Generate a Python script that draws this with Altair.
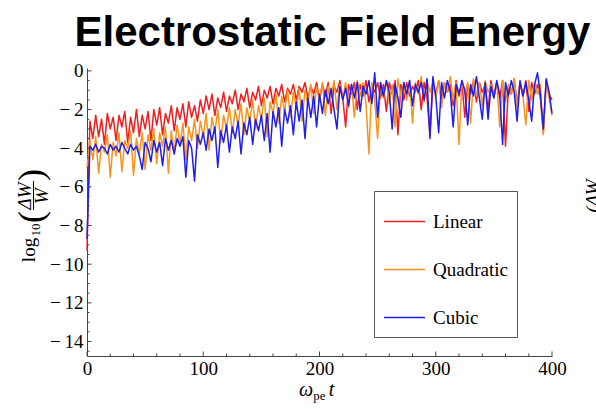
import altair as alt
import pandas as pd

# Sampling interval of the stored series (in units of omega_pe * t)
T_STEP = 2.5

SERIES = ["Linear", "Quadratic", "Cubic"]
COLORS = ["#f01e1e", "#f7941d", "#1e1ef0"]

# log10(dW/W) for each interpolation order, one value every T_STEP
linear = [
    -9.3, -2.6, -3.5, -2.3, -3.4, -2.5, -3.8, -2.2, -3.0, -2.4,
    -3.6, -2.3, -2.9, -2.1, -3.7, -2.4, -3.2, -2.0, -3.4, -2.3,
    -3.0, -2.1, -3.6, -2.0, -2.8, -1.9, -3.3, -2.2, -2.7, -1.8,
    -3.1, -1.9, -2.5, -1.7, -2.9, -1.6, -2.4, -1.8, -2.6, -1.5,
    -2.2, -1.3, -2.0, -1.2, -2.3, -1.4, -1.9, -1.1, -2.1, -1.3,
    -1.7, -1.0, -2.0, -1.2, -1.6, -0.9, -1.9, -1.1, -1.5, -0.8,
    -1.8, -1.0, -1.4, -0.8, -1.7, -0.9, -1.3, -0.7, -1.6, -0.9,
    -1.2, -0.7, -1.5, -0.8, -1.1, -0.6, -1.4, -0.8, -1.2, -0.6,
    -1.5, -0.7, -1.3, -0.6, -2.2, -0.8, -1.1, -0.5, -1.4, -2.9,
    -0.7, -1.2, -0.6, -2.0, -0.7, -1.3, -0.5, -1.6, -0.8, -1.1,
    -0.6, -1.4, -0.7, -2.1, -0.6, -1.2, -0.5, -3.3, -0.7, -1.5,
    -0.6, -1.3, -0.8, -1.1, -0.5, -2.0, -0.6, -1.4, -3.3, -0.7,
    -1.2, -0.5, -1.5, -0.6, -1.1, -0.7, -1.8, -0.5, -1.3, -0.6,
    -2.4, -0.7, -1.2, -0.5, -1.6, -0.6, -1.1, -0.7, -2.0, -0.5,
    -1.3, -0.6, -1.4, -0.5, -3.9, -0.8, -1.2, -0.4, -1.7, -0.6,
    -1.3, -0.5, -2.1, -0.6, -1.2, -0.7, -1.4, -3.2, -0.5, -1.2,
    -1.5,
]

quadratic = [
    -5.0, -3.6, -4.6, -3.4, -5.3, -3.8, -4.2, -3.3, -5.5, -3.7,
    -4.4, -3.2, -5.2, -3.6, -4.0, -3.1, -5.4, -3.5, -4.3, -3.2,
    -5.1, -3.3, -4.1, -3.0, -4.8, -3.2, -3.9, -2.9, -5.3, -3.1,
    -4.2, -2.8, -3.8, -2.7, -4.6, -2.9, -3.6, -2.5, -4.0, -2.6,
    -3.4, -2.2, -4.1, -2.4, -3.2, -2.0, -3.7, -2.3, -3.0, -1.9,
    -3.2, -2.0, -2.8, -1.7, -3.3, -1.9, -2.6, -1.5, -3.0, -1.8,
    -2.5, -1.4, -3.4, -1.6, -2.2, -1.2, -2.7, -1.3, -2.1, -1.0,
    -2.4, -1.1, -1.9, -0.9, -2.6, -1.0, -1.7, -0.7, -2.2, -0.8,
    -1.6, -0.6, -2.3, -0.8, -1.4, -0.5, -2.0, -0.7, -1.5, -0.6,
    -1.9, -0.7, -2.4, -0.5, -1.3, -0.6, -1.7, -4.3, -0.6, -1.5,
    -3.5, -0.6, -1.4, -0.5, -1.7, -0.7, -2.9, -0.4, -1.3, -0.6,
    -1.5, -0.5, -2.7, -0.6, -1.2, -0.3, -1.6, -0.5, -1.1, -0.6,
    -1.4, -0.5, -1.9, -0.6, -1.1, -0.3, -1.5, -0.6, -3.8, -0.5,
    -1.2, -0.6, -2.7, -0.4, -1.3, -0.6, -1.8, -0.5, -1.1, -0.7,
    -1.4, -0.6, -2.9, -0.5, -1.6, -0.7, -1.2, -0.4, -1.9, -0.6,
    -1.3, -2.8, -0.5, -1.5, -0.6, -1.2, -0.7, -3.3, -0.6, -1.4,
    -2.3,
]

cubic = [
    -8.7, -3.9, -4.1, -3.8, -4.2, -3.9, -4.0, -4.3, -3.8, -4.1,
    -3.9, -4.2, -3.7, -4.0, -4.3, -3.8, -4.1, -3.9, -4.4, -5.1,
    -3.7, -4.0, -4.7, -3.6, -4.2, -3.7, -4.9, -3.5, -4.1, -3.6,
    -4.3, -3.5, -3.9, -3.4, -5.5, -3.6, -4.0, -5.7, -3.3, -3.8,
    -3.2, -4.1, -3.0, -3.6, -2.9, -5.0, -3.1, -3.7, -2.8, -4.2,
    -2.9, -3.5, -2.6, -4.3, -2.7, -3.3, -2.4, -3.8, -2.5, -3.1,
    -2.3, -3.6, -2.2, -4.2, -2.1, -2.9, -1.9, -3.9, -2.0, -2.7,
    -1.8, -3.3, -1.6, -2.6, -1.5, -3.5, -1.4, -2.4, -1.3, -2.9,
    -1.2, -2.2, -1.0, -1.7, -0.9, -2.0, -3.0, -0.8, -1.5, -0.9,
    -1.8, -0.7, -1.4, -0.6, -2.1, -0.8, -1.2, -0.5, -1.7, -0.1,
    -2.4, -0.6, -1.3, -0.5, -1.1, -3.0, -0.7, -1.4, -2.4, -0.6,
    -1.2, -0.5, -1.8, -0.7, -1.1, -0.6, -1.5, -0.4, -3.5, -0.3,
    -1.3, -3.2, -0.6, -1.4, -0.5, -1.1, -2.9, -0.7, -1.2, -0.5,
    -1.0, -2.8, -0.7, -1.3, -0.3, -1.4, -2.5, -0.6, -2.5, -0.8,
    -1.4, -0.5, -1.2, -3.8, -0.6, -1.3, -0.5, -1.1, -2.6, -0.5,
    -1.3, -0.6, -1.5, -2.6, -0.7, -0.1, -1.2, -3.0, -0.4, -1.1,
    -2.2,
]

X_MAJOR = [0, 100, 200, 300, 400]
X_MINOR = [v for v in range(0, 401, 20) if v % 100]
Y_MAJOR = [0, -2, -4, -6, -8, -10, -12, -14]
Y_MINOR = [-k * 0.5 for k in range(0, 30) if k % 4]

W, H = 465, 288
SERIF = "Liberation Serif"
AXIS_GRAY = "#444444"

rows = []
for name, vals in zip(SERIES, [linear, quadratic, cubic]):
    for i, v in enumerate(vals):
        rows.append({"t": i * T_STEP, "value": v, "series": name})
data = pd.DataFrame(rows)

x_scale = alt.Scale(domain=[0, 400], nice=False, zero=False)
y_scale = alt.Scale(domain=[-14.75, 0.15], nice=False, zero=False)
color_scale = alt.Scale(domain=SERIES, range=COLORS)

x_axis = alt.Axis(values=X_MAJOR, ticks=False, grid=False, domainColor=AXIS_GRAY,
                  labelFont=SERIF, labelFontSize=19, labelColor="black",
                  labelPadding=3, title=None, labelFlush=False)
# negative labels get a long minus followed by a thin space
y_axis = alt.Axis(values=Y_MAJOR, ticks=False, grid=False, domainColor=AXIS_GRAY,
                  labelFont=SERIF, labelFontSize=19, labelColor="black",
                  labelPadding=4, title=None,
                  labelExpr="datum.value < 0 ? '\u2212\u2009' + format(-datum.value, 'd') : datum.label")
# an empty bottom title only adds a little space under the last entry
legend = alt.Legend(title=" ", titleOrient="bottom", titleFontSize=1, titleLineHeight=1,
                    titlePadding=-10,
                    orient="none", legendX=287, legendY=123,
                    symbolType="stroke", symbolSize=1681, symbolStrokeWidth=1.5,
                    labelFont=SERIF, labelFontSize=19, labelColor="black",
                    labelOffset=7, rowPadding=16, padding=9,
                    strokeColor="#555555", fillColor="white", labelLimit=300)


def series_layer(name):
    return (
        alt.Chart(data)
        .transform_filter(alt.datum.series == name)
        .mark_line(strokeWidth=1.5, strokeJoin="round")
        .encode(
            x=alt.X("t:Q", scale=x_scale, axis=x_axis),
            y=alt.Y("value:Q", scale=y_scale, axis=y_axis),
            color=alt.Color("series:N", scale=color_scale, legend=legend),
        )
    )


# Linear first, cubic last (drawn on top)
lines = [series_layer(name) for name in SERIES]


def tick_layer(values, channel, length):
    df = pd.DataFrame({"v": values})
    base = alt.Chart(df).mark_rule(color=AXIS_GRAY, strokeWidth=1)
    if channel == "x":
        return base.encode(x=alt.X("v:Q", scale=x_scale, axis=x_axis),
                           y=alt.value(H), y2=alt.value(H - length))
    return base.encode(y=alt.Y("v:Q", scale=y_scale, axis=y_axis),
                       x=alt.value(0), x2=alt.value(length))


# Inward-pointing major and minor ticks
ticks = [
    tick_layer(X_MAJOR, "x", 4.5),
    tick_layer(X_MINOR, "x", 2.5),
    tick_layer(Y_MAJOR, "y", 4.5),
    tick_layer(Y_MINOR, "y", 2.5),
]


def label(text, x, y, size=19, angle=0, style="normal", font=SERIF,
          weight="normal", align="center"):
    return (
        alt.Chart(pd.DataFrame({"s": [text]}))
        .mark_text(font=font, fontSize=size, fontStyle=style, fontWeight=weight,
                   angle=angle, align=align, baseline="alphabetic", color="black")
        .encode(x=alt.value(x), y=alt.value(y), text="s:N")
    )


# Title
annotations = [
    label("Electrostatic Field Energy", 245.5, -22, size=42,
          font="Liberation Sans", weight="bold"),
]

# x-axis title: omega_pe t
annotations += [
    label("ω", 219, 328, size=20, style="italic"),
    label("pe", 232.5, 332, size=13),
    label("t", 244.5, 328, size=20, style="italic"),
]

# y-axis title: log10(ΔW / W), rotated
annotations += [
    label("log", -52, 182, angle=270),
    label("10", -47, 162, size=13, angle=270),
    label("(", -44.5, 149, size=36, angle=270),
    label("ΔW", -56, 128, angle=270, style="italic"),
    label("W", -39, 128, angle=270, style="italic"),
    label(")", -44.5, 107, size=36, angle=270),
    label("(ΔW", 512, 128, angle=270, style="italic"),
]
fraction_bar = (
    alt.Chart(pd.DataFrame({"s": [0]}))
    .mark_rule(color="black", strokeWidth=1)
    .encode(x=alt.value(-53.5), y=alt.value(113), y2=alt.value(142))
)

chart = (
    alt.layer(*lines, *ticks, *annotations, fraction_bar)
    .properties(
        width=W,
        height=H,
        autosize=alt.AutoSizeParams(type="none"),
        padding={"left": 87, "top": 68, "right": 44, "bottom": 53},
        background="white",
    )
    .configure_view(stroke=None)
)

chart.save("out.html", embed_options={"renderer": "svg", "actions": False})
